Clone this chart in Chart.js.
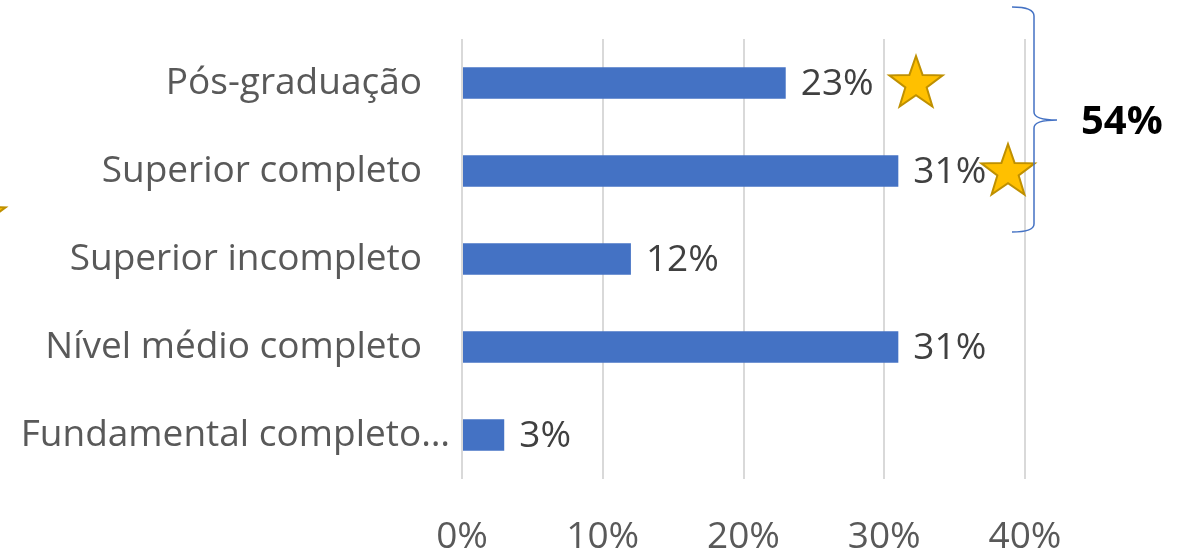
<!DOCTYPE html>
<html>
<head>
<meta charset="utf-8">
<script src="https://cdn.jsdelivr.net/npm/chart.js@4/dist/chart.umd.min.js"></script>
<style>
  html, body { margin: 0; padding: 0; background: #fff; }
  #wrap { width: 1184px; height: 554px; position: relative; }
</style>
</head>
<body>
<div id="wrap"><canvas id="chart"></canvas></div>
<script>
// escolaridade (%)
const categorias = ["Pós-graduação", "Superior completo", "Superior incompleto", "Nível médio completo", "Fundamental completo…"];
const valores = [23, 31, 12, 31, 3];
const ticksX = [0, 10, 20, 30, 40];
const totalDestaque = "54%";

const FONTE = "'Open Sans', 'Noto Sans', sans-serif";
const TAM = 37;
const AZUL = "#4472C4";

// rótulos das categorias, alinhados à direita do eixo
const rotulosY = {
  id: "rotulosY",
  afterDraw(chart) {
    const ctx = chart.ctx;
    const y = chart.scales.y;
    const left = chart.chartArea.left;
    ctx.save();
    ctx.font = TAM + "px " + FONTE;
    ctx.fillStyle = "#595959";
    ctx.textAlign = "right";
    ctx.textBaseline = "middle";
    categorias.forEach((c, i) => {
      // o rótulo truncado fica mais perto do eixo
      const dx = c.endsWith("…") ? 12 : 40;
      ctx.fillText(c, left - dx, y.getPixelForValue(i));
    });
    ctx.restore();
  }
};

// valor no fim de cada barra
const rotulosValor = {
  id: "rotulosValor",
  afterDatasetsDraw(chart) {
    const ctx = chart.ctx;
    const meta = chart.getDatasetMeta(0);
    ctx.save();
    ctx.font = TAM + "px " + FONTE;
    ctx.fillStyle = "#404040";
    ctx.textAlign = "left";
    ctx.textBaseline = "middle";
    meta.data.forEach((bar, i) => {
      ctx.fillText(valores[i] + "%", bar.x + 15, bar.y + 1);
    });
    ctx.restore();
  }
};

function estrela(ctx, cx, cy, r) {
  ctx.beginPath();
  for (let k = 0; k < 10; k++) {
    const rr = k % 2 === 0 ? r : r * 0.4;
    const a = -Math.PI / 2 + k * Math.PI / 5;
    const px = cx + rr * Math.cos(a);
    const py = cy + rr * Math.sin(a);
    if (k === 0) ctx.moveTo(px, py); else ctx.lineTo(px, py);
  }
  ctx.closePath();
  ctx.fillStyle = "#FFC000";
  ctx.fill();
  ctx.lineWidth = 2;
  ctx.strokeStyle = "#BF9000";
  ctx.stroke();
}

// estrelas, chave e total dos dois níveis superiores
const destaque = {
  id: "destaque",
  afterDraw(chart) {
    const ctx = chart.ctx;
    const y = chart.scales.y;
    ctx.save();
    estrela(ctx, 916, y.getPixelForValue(0) + 1, 28);
    estrela(ctx, 1008, y.getPixelForValue(1) + 1, 28);
    estrela(ctx, -21, 216, 28);

    // chave
    ctx.strokeStyle = AZUL;
    ctx.lineWidth = 1.5;
    ctx.beginPath();
    ctx.moveTo(1012, 7);
    ctx.quadraticCurveTo(1034, 7, 1034, 16);
    ctx.lineTo(1034, 112);
    ctx.quadraticCurveTo(1034, 120, 1057, 120);
    ctx.moveTo(1057, 120);
    ctx.quadraticCurveTo(1034, 120, 1034, 128);
    ctx.lineTo(1034, 224);
    ctx.quadraticCurveTo(1034, 232, 1012, 232);
    ctx.stroke();

    ctx.font = "bold 40px " + FONTE;
    ctx.fillStyle = "#000";
    ctx.textAlign = "left";
    ctx.textBaseline = "middle";
    ctx.fillText(totalDestaque, 1081, 123);
    ctx.restore();
  }
};

new Chart(document.getElementById("chart"), {
  type: "bar",
  data: {
    labels: categorias,
    datasets: [{
      data: valores,
      backgroundColor: AZUL,
      categoryPercentage: 1,
      barPercentage: 0.36
    }]
  },
  options: {
    indexAxis: "y",
    responsive: true,
    maintainAspectRatio: false,
    animation: false,
    layout: { padding: { top: 39, right: 159, bottom: 0, left: 0 } },
    plugins: { legend: { display: false }, tooltip: { enabled: false } },
    scales: {
      x: {
        min: 0,
        max: 40,
        afterBuildTicks(scale) { scale.ticks = ticksX.map(v => ({ value: v })); },
        afterFit(scale) { scale.height = 75; },
        border: { display: false },
        grid: { color: "#d9d9d9", lineWidth: 2, drawTicks: false },
        ticks: {
          padding: 36,
          color: "#595959",
          font: { family: FONTE, size: TAM },
          callback: v => v + "%"
        }
      },
      y: {
        afterFit(scale) { scale.width = 462; },
        border: { display: false },
        grid: { display: false },
        ticks: { display: false }
      }
    }
  },
  plugins: [rotulosY, rotulosValor, destaque]
});
</script>
</body>
</html>
